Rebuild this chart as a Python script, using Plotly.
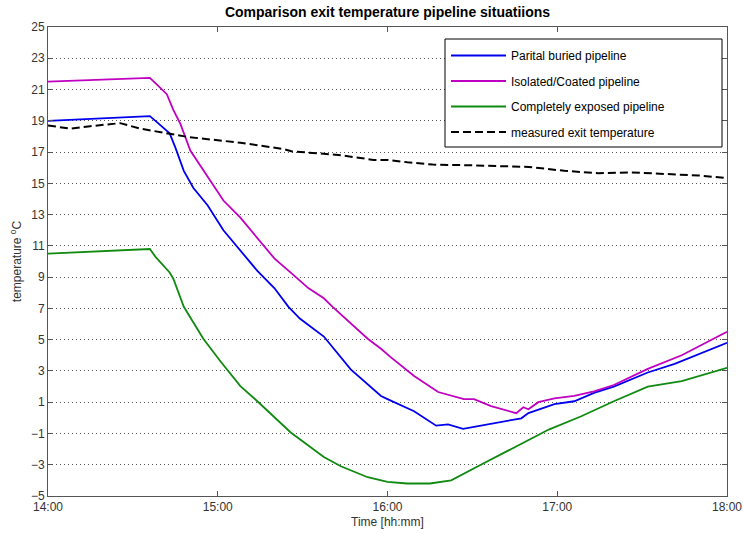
import plotly.graph_objects as go

# Time in minutes after 14:00
blue_t = [0, 36, 38.6, 43, 45, 48, 51.4, 56.4, 62, 68, 74, 80, 85, 89, 97.5, 107, 117.7, 120,
          129.4, 137.2, 141.4, 146.7, 153.1, 164.8, 167.3, 169.8, 179, 186, 193, 200, 212, 221.5, 240]
blue_v = [19.0, 19.3, 18.9, 18.2, 17.3, 15.8, 14.7, 13.6, 12.0, 10.7, 9.4, 8.3, 7.1, 6.35, 5.2, 3.1, 1.4, 1.2,
          0.42, -0.5, -0.42, -0.7, -0.48, -0.1, -0.03, 0.3, 0.87, 1.06, 1.6, 2.0, 2.9, 3.45, 4.8]

mag_t = [0, 36, 38.6, 42, 44.3, 46.8, 50.3, 56.4, 62, 68, 74, 80, 86, 92, 97.5, 100.6, 113, 117.7, 121,
         129.4, 137.9, 147, 150.6, 156.6, 165.5, 168, 169.8, 173.3, 179, 186, 193, 200, 212, 224, 240]
mag_v = [21.5, 21.75, 21.3, 20.7, 19.7, 18.8, 17.1, 15.4, 13.9, 12.8, 11.5, 10.2, 9.26, 8.3, 7.65, 7.1, 5.06, 4.42, 3.9,
         2.68, 1.65, 1.2, 1.2, 0.75, 0.3, 0.68, 0.55, 1.0, 1.25, 1.4, 1.7, 2.1, 3.13, 4.0, 5.5]

green_t = [0, 36, 38, 40.5, 43, 44.3, 46.5, 48, 54.9, 61, 68, 74, 85.8, 97.5, 103.5, 113, 120, 127, 135,
           142.5, 153, 166, 177, 188.5, 200, 212, 224, 240]
green_v = [10.5, 10.8, 10.3, 9.8, 9.3, 8.9, 7.8, 7.1, 5.06, 3.6, 2.03, 1.06, -0.94, -2.5, -3.1, -3.8, -4.1, -4.2, -4.2,
           -4.0, -3.0, -1.8, -0.75, 0.1, 1.06, 2.0, 2.35, 3.2]

meas_t = [0, 7.8, 14.9, 25.5, 32.6, 42, 50, 68, 83, 86, 97.5, 103.5, 115, 120, 127, 136, 150, 170,
          182.5, 194.6, 206, 218, 230, 239]
meas_v = [18.7, 18.5, 18.65, 18.85, 18.5, 18.2, 17.95, 17.6, 17.2, 17.05, 16.9, 16.8, 16.5, 16.5, 16.35, 16.2, 16.15, 16.05,
          15.8, 15.65, 15.7, 15.6, 15.5, 15.35]

x_tickvals = [0, 60, 120, 180, 240]
x_ticktext = ["14:00", "15:00", "16:00", "17:00", "18:00"]
y_tickvals = list(range(-5, 26, 2))

FONT = "Liberation Sans, Arial, sans-serif"

# plot area in pixels: x 48..727, y 27..496
PW, PH = 679, 469

fig = go.Figure()
series = [
    ("Parital buried pipeline", blue_t, blue_v, "#0000ee", "solid", 1.8),
    ("Isolated/Coated pipeline", mag_t, mag_v, "#c000c0", "solid", 1.8),
    ("Completely exposed pipeline", green_t, green_v, "#108a10", "solid", 1.8),
    ("measured exit temperature", meas_t, meas_v, "#000000", "8px,4px", 2.0),
]
for i, (name, t, v, c, d, w) in enumerate(series):
    fig.add_trace(go.Scatter(x=t, y=v, mode="lines", name=name, legendgroup=f"g{i}",
                             line=dict(color=c, dash=d, width=w)))

# legend frame (opaque box)
fig.add_shape(type="rect", xref="paper", yref="paper", layer="above",
              x0=(445 - 48) / PW, x1=(722 - 48) / PW,
              y0=1 - (147 - 27) / PH, y1=1 - (39 - 27) / PH,
              line=dict(color="#000000", width=1), fillcolor="white")

fig.update_layout(
    width=743, height=534,
    margin=dict(l=48, r=16, t=27, b=38, autoexpand=False),
    paper_bgcolor="white", plot_bgcolor="white",
    font=dict(family=FONT, size=12, color="#333333"),
    title=dict(text="<b>Comparison exit temperature pipeline situatiions</b>",
               x=0.5, xref="paper", xanchor="center",
               y=1 - 12 / 534, yref="container", yanchor="middle",
               font=dict(family=FONT, size=14, color="#000000")),
    showlegend=True,
    legend=dict(x=(446 - 48) / PW, y=1 - (41 - 27) / PH, xanchor="left", yanchor="top",
                bgcolor="rgba(0,0,0,0)", borderwidth=0,
                font=dict(family=FONT, size=12, color="#000000"),
                tracegroupgap=6.5, itemwidth=55),
)
fig.update_xaxes(range=[0, 240], tickvals=x_tickvals, ticktext=x_ticktext, automargin=False,
                 showgrid=False, zeroline=False, showline=True, linecolor="#555555",
                 linewidth=1, mirror="ticks", ticks="inside", ticklen=5, tickcolor="#555555",
                 title=dict(text="Time [hh:mm]", font=dict(family=FONT, size=12, color="#333333"), standoff=4))
fig.update_yaxes(range=[-5, 25], tickvals=y_tickvals, automargin=False,
                 showgrid=True, gridcolor="#555555", griddash="1px,3px", gridwidth=1,
                 zeroline=False, showline=True, linecolor="#555555",
                 linewidth=1, mirror="ticks", ticks="inside", ticklen=5, tickcolor="#555555",
                 title=dict(text="temperature <sup>o</sup>C", font=dict(family=FONT, size=12, color="#333333"), standoff=6))

fig.write_html("out.html")
